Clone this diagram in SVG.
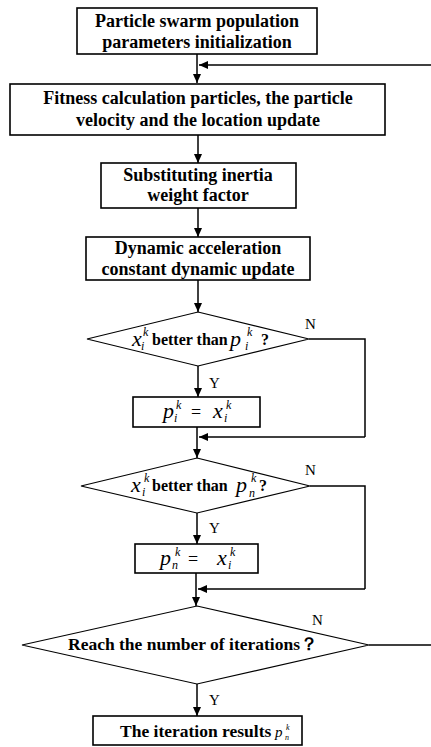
<svg xmlns="http://www.w3.org/2000/svg" width="431" height="747" viewBox="0 0 431 747">
<style>
.box{fill:#fff;stroke:#000;stroke-width:1.6}
.dia{fill:#fff;stroke:#000;stroke-width:1.1}
.b{font-family:"Liberation Serif","Times New Roman",serif;font-weight:bold;font-size:18px;fill:#000;text-anchor:middle}
.bl{font-family:"Liberation Serif","Times New Roman",serif;font-weight:bold;font-size:16px;fill:#000}
.m{font-family:"Liberation Serif","Times New Roman",serif;font-style:italic;font-size:22px;fill:#000}
.s{font-family:"Liberation Serif","Times New Roman",serif;font-style:italic;font-size:12px;fill:#000}
.r{font-family:"Liberation Serif","Times New Roman",serif;font-size:15px;fill:#000}
.c{fill:none;stroke:#000;stroke-width:1.5}
</style>
<defs>
<marker id="ah" markerWidth="10" markerHeight="10" refX="9" refY="5" orient="auto" markerUnits="userSpaceOnUse">
<path d="M0,1 L9,5 L0,9 Z" fill="#000"/>
</marker>
</defs>
<g id="connectors">
<line class="c" x1="197" y1="54" x2="197" y2="83" marker-end="url(#ah)"/>
<line class="c" x1="431" y1="65" x2="199" y2="65" marker-end="url(#ah)"/>
<line class="c" x1="198" y1="135" x2="198" y2="163" marker-end="url(#ah)"/>
<line class="c" x1="198" y1="208" x2="198" y2="237" marker-end="url(#ah)"/>
<line class="c" x1="198" y1="280" x2="198" y2="312" marker-end="url(#ah)"/>
<polyline class="c" points="309,339 365,339 365,437"/>
<line class="c" x1="365" y1="437" x2="199" y2="437" marker-end="url(#ah)"/>
<line class="c" x1="198" y1="366" x2="198" y2="397" marker-end="url(#ah)"/>
<line class="c" x1="197" y1="427" x2="197" y2="458" marker-end="url(#ah)"/>
<polyline class="c" points="310,486 365,486 365,589"/>
<line class="c" x1="365" y1="589" x2="198" y2="589" marker-end="url(#ah)"/>
<line class="c" x1="197" y1="513" x2="197" y2="544" marker-end="url(#ah)"/>
<line class="c" x1="196" y1="573" x2="196" y2="606" marker-end="url(#ah)"/>
<line class="c" x1="369" y1="645" x2="431" y2="645"/>
<line class="c" x1="197" y1="684" x2="197" y2="716" marker-end="url(#ah)"/>
<text class="r" x="305" y="329">N</text>
<text class="r" x="209" y="388">Y</text>
<text class="r" x="305" y="475">N</text>
<text class="r" x="209" y="533">Y</text>
<text class="r" x="312" y="625">N</text>
<text class="r" x="209" y="705">Y</text>
</g>
<g id="n1">
<rect class="box" x="77" y="8" width="240" height="46"/>
<text class="b" x="197" y="26.5">Particle swarm population</text>
<text class="b" x="197" y="47.5">parameters initialization</text>
</g>
<g id="n2">
<rect class="box" x="10" y="84" width="375" height="51"/>
<text class="b" x="198" y="103.5">Fitness calculation particles, the particle</text>
<text class="b" x="198" y="126">velocity and the location update</text>
</g>
<g id="n3">
<rect class="box" x="101" y="163" width="195" height="45"/>
<text class="b" x="198" y="181">Substituting inertia</text>
<text class="b" x="198" y="201">weight factor</text>
</g>
<g id="n4">
<rect class="box" x="86" y="237" width="224" height="43"/>
<text class="b" x="198" y="253.5">Dynamic acceleration</text>
<text class="b" x="198" y="275">constant dynamic update</text>
</g>
<g id="d1">
<polygon class="dia" points="198,312 309,339 198,366 87,339"/>
<text class="m" x="132" y="346">x</text>
<text class="s" x="143" y="336">k</text>
<text class="s" x="141" y="350">i</text>
<text class="bl" x="152" y="345">better than</text>
<text class="m" x="230" y="346">p</text>
<text class="s" x="247" y="336">k</text>
<text class="s" x="245" y="350">i</text>
<text class="bl" x="261" y="345">?</text>
</g>
<g id="n5">
<rect class="box" x="133" y="397" width="127" height="30"/>
<text class="m" x="163" y="418">p</text>
<text class="s" x="176" y="409">k</text>
<text class="s" x="174" y="422">i</text>
<text class="r" x="191" y="418" style="font-size:18px">=</text>
<text class="m" x="213" y="418">x</text>
<text class="s" x="226" y="409">k</text>
<text class="s" x="224" y="422">i</text>
</g>
<g id="d2">
<polygon class="dia" points="197,458 310,486 197,513 81,486"/>
<text class="m" x="131" y="492">x</text>
<text class="s" x="144" y="482">k</text>
<text class="s" x="142" y="496">i</text>
<text class="bl" x="152" y="491">better than</text>
<text class="m" x="236" y="492">p</text>
<text class="s" x="251" y="482">k</text>
<text class="s" x="249" y="497">n</text>
<text class="bl" x="259" y="491">?</text>
</g>
<g id="n6">
<rect class="box" x="135" y="544" width="123" height="29"/>
<text class="m" x="160" y="565">p</text>
<text class="s" x="175" y="556">k</text>
<text class="s" x="172" y="569">n</text>
<text class="r" x="188" y="565" style="font-size:18px">=</text>
<text class="m" x="217" y="565">x</text>
<text class="s" x="230" y="556">k</text>
<text class="s" x="228" y="569">i</text>
</g>
<g id="d3">
<polygon class="dia" points="197,606 369,645 197,684 22,645"/>
<text class="bl" x="68" y="650" style="font-size:17.5px">Reach the number of iterations？</text>
</g>
<g id="n7">
<rect class="box" x="93" y="716" width="209" height="29"/>
<text class="bl" x="120" y="737" style="font-size:17.5px">The iteration results</text>
<text class="m" x="275" y="737" style="font-size:15px">p</text>
<text class="s" x="286" y="730" style="font-size:8px">k</text>
<text class="s" x="285" y="740" style="font-size:8px">n</text>
</g>
</svg>
